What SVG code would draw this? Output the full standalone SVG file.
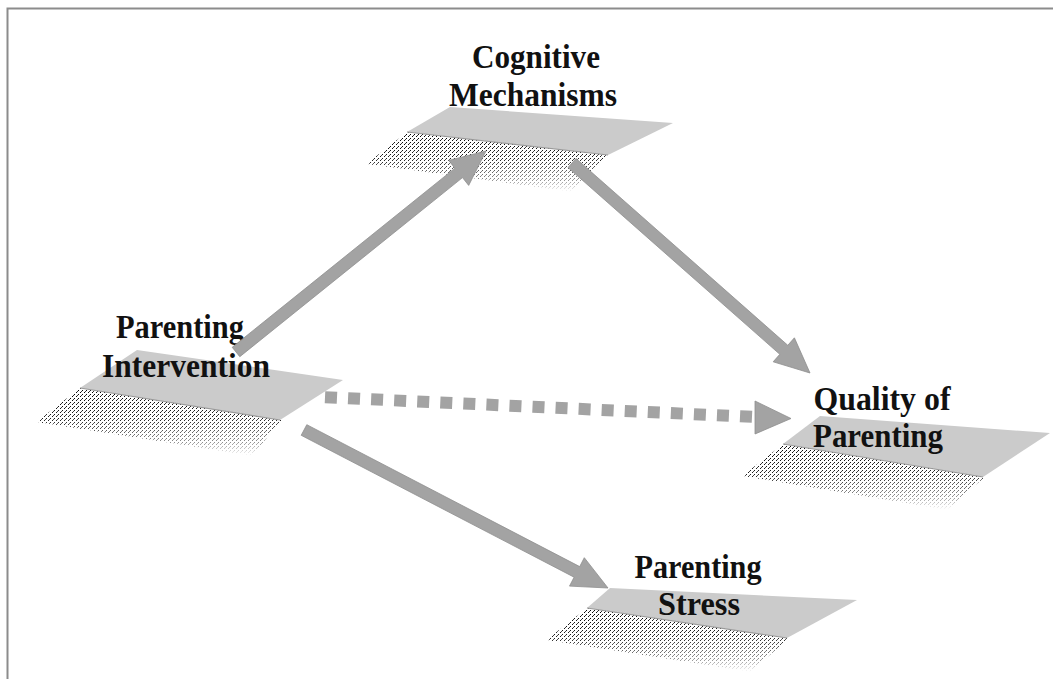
<svg xmlns="http://www.w3.org/2000/svg" width="1053" height="679" viewBox="0 0 1053 679">
  <style>
    .plane { fill: #cbcbcb; }
    .edge { stroke: #9a9a9a; stroke-width: 1.2; fill: none; }
    .stip { fill: url(#dots); }
    .lbl { font-family: "Liberation Serif", "Times New Roman", serif; font-weight: bold; font-size: 34px; fill: #111111; text-anchor: middle; }
    .arrow { fill: #a3a3a3; stroke: #8e8e8e; stroke-width: 0.8; stroke-linejoin: miter; }
    .frame { stroke: #8c8c8c; stroke-width: 2; fill: none; }
  </style>
  <defs>
    <pattern id="dots" x="0" y="0" width="4" height="4" patternUnits="userSpaceOnUse">
      <rect x="0" y="0" width="1" height="1" fill="#000"/>
      <rect x="2" y="2" width="1" height="1" fill="#000"/>
      <rect x="1" y="3" width="1" height="1" fill="#333"/>
    </pattern>
    <linearGradient id="fade" x1="0" y1="0" x2="0" y2="1">
      <stop offset="0" stop-color="#fff"/>
      <stop offset="0.45" stop-color="#e0e0e0"/>
      <stop offset="0.8" stop-color="#707070"/>
      <stop offset="1" stop-color="#000"/>
    </linearGradient>
    <mask id="m1" maskUnits="userSpaceOnUse" x="0" y="0" width="1053" height="679">
      <polygon points="80,388 282,420 252,456 36,422" fill="url(#fade)"/>
    </mask>
    <mask id="m2" maskUnits="userSpaceOnUse" x="0" y="0" width="1053" height="679">
      <polygon points="407,132 608,155 572,192 366,164" fill="url(#fade)"/>
    </mask>
    <mask id="m3" maskUnits="userSpaceOnUse" x="0" y="0" width="1053" height="679">
      <polygon points="783,444 985,477 947,510 742,476" fill="url(#fade)"/>
    </mask>
    <mask id="m4" maskUnits="userSpaceOnUse" x="0" y="0" width="1053" height="679">
      <polygon points="587,608 789,638 751,672 546,640" fill="url(#fade)"/>
    </mask>
  </defs>

  <rect x="0" y="0" width="1053" height="679" fill="#ffffff"/>
  <path class="frame" d="M7.5,679 V8.5 H1053"/>

  <g id="node-intervention">
    <polygon class="plane" points="137,350 343,380 280,420 80,388"/>
    <polygon class="stip" points="80,388 282,420 252,456 36,422" mask="url(#m1)"/>
    <line class="edge" x1="80" y1="388" x2="280" y2="420"/>
    <text class="lbl" x="180" y="338" textLength="128" lengthAdjust="spacingAndGlyphs">Parenting</text>
    <text class="lbl" x="186" y="377" textLength="168" lengthAdjust="spacingAndGlyphs">Intervention</text>
  </g>

  <g id="node-cognitive">
    <polygon class="plane" points="450,107 673,123 608,155 407,132"/>
    <polygon class="stip" points="407,132 608,155 572,192 366,164" mask="url(#m2)"/>
    <line class="edge" x1="407" y1="132" x2="608" y2="155"/>
    <text class="lbl" x="536" y="68" textLength="128" lengthAdjust="spacingAndGlyphs">Cognitive</text>
    <text class="lbl" x="533" y="106" textLength="168" lengthAdjust="spacingAndGlyphs">Mechanisms</text>
  </g>

  <g id="node-quality">
    <polygon class="plane" points="820,416 1050,433 983,477 783,444"/>
    <polygon class="stip" points="783,444 985,477 947,510 742,476" mask="url(#m3)"/>
    <line class="edge" x1="783" y1="444" x2="983" y2="477"/>
    <text class="lbl" x="882" y="410" textLength="137" lengthAdjust="spacingAndGlyphs">Quality of</text>
    <text class="lbl" x="878" y="447" textLength="130" lengthAdjust="spacingAndGlyphs">Parenting</text>
  </g>

  <g id="node-stress">
    <polygon class="plane" points="610,588 857,600 787,638 587,608"/>
    <polygon class="stip" points="587,608 789,638 751,672 546,640" mask="url(#m4)"/>
    <line class="edge" x1="587" y1="608" x2="787" y2="638"/>
    <text class="lbl" x="698" y="578" textLength="127" lengthAdjust="spacingAndGlyphs">Parenting</text>
    <text class="lbl" x="699" y="615" textLength="82" lengthAdjust="spacingAndGlyphs">Stress</text>
  </g>

  <g id="connectors">
    <polygon class="arrow" points="239.8,356.7 462.5,177.6 468.7,185.4 486,151 448.7,160.4 454.9,168.2 232.2,347.3"/>
    <polygon class="arrow" points="568.0,167.5 779.8,354.3 773.2,361.8 810,373 794.4,337.8 787.8,345.3 576.0,158.5"/>
    <polygon class="arrow" points="301.2,435.3 574.1,577.2 569.5,586.1 608,588 584.3,557.7 579.7,566.6 306.8,424.7"/>
    <line x1="325" y1="397.2" x2="752" y2="416.8" stroke="#a3a3a3" stroke-width="12" stroke-dasharray="12 11.08"/>
    <polygon class="arrow" points="755,401 791,418.5 755,434"/>
  </g>
</svg>
